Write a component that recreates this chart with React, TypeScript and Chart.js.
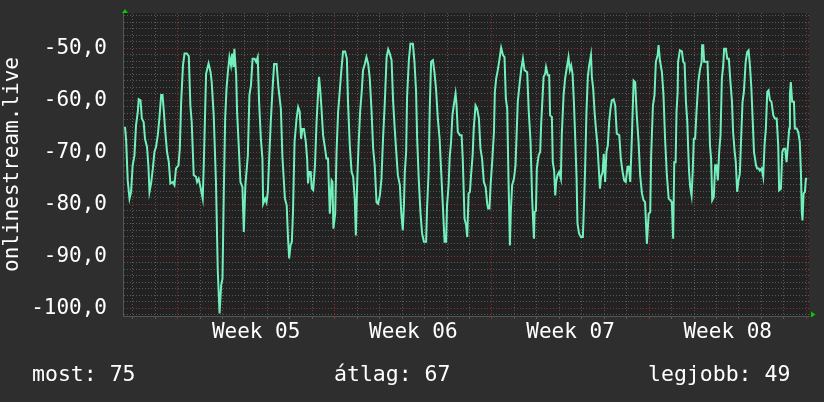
import React, { useEffect, useRef } from "react";
import { Chart, registerables } from "chart.js";

Chart.register(...registerables);

// time in days from the start of Week 05
const days: number[] = [
  -2.34, -2.29, -2.22, -2.14, -2.07, -2.0, -1.92, -1.85, -1.77, -1.73, -1.65, -1.59, -1.51, -1.45, -1.36, -1.3, -1.25, -1.18, -1.1, -1.03,
  -0.96, -0.88, -0.81, -0.73, -0.67, -0.61, -0.56, -0.47, -0.39, -0.32, -0.21, -0.14, -0.07, 0.04, 0.1, 0.16, 0.24, 0.31, 0.41, 0.5,
  0.57, 0.63, 0.72, 0.82, 0.87, 0.94, 1.02, 1.12, 1.17, 1.22, 1.27, 1.38, 1.47, 1.52, 1.61, 1.71, 1.79, 1.87, 1.94, 2.0,
  2.06, 2.12, 2.18, 2.24, 2.31, 2.38, 2.43, 2.49, 2.53, 2.61, 2.65, 2.73, 2.8, 2.89, 2.95, 3.02, 3.13, 3.2, 3.27, 3.34,
  3.43, 3.5, 3.57, 3.63, 3.71, 3.78, 3.81, 3.9, 3.96, 4.02, 4.08, 4.15, 4.23, 4.3, 4.41, 4.49, 4.6, 4.67, 4.78, 4.86,
  4.92, 4.97, 5.03, 5.09, 5.14, 5.21, 5.3, 5.37, 5.44, 5.5, 5.56, 5.63, 5.71, 5.77, 5.81, 5.86, 5.93, 5.98, 6.04, 6.12,
  6.19, 6.26, 6.3, 6.35, 6.41, 6.48, 6.56, 6.63, 6.7, 6.78, 6.86, 6.9, 6.94, 7.02, 7.08, 7.15, 7.22, 7.3, 7.37, 7.46,
  7.54, 7.59, 7.67, 7.75, 7.82, 7.89, 7.94, 8.0, 8.06, 8.13, 8.2, 8.26, 8.34, 8.41, 8.49, 8.56, 8.64, 8.71, 8.78, 8.86,
  8.93, 9.01, 9.08, 9.15, 9.23, 9.31, 9.38, 9.45, 9.53, 9.6, 9.67, 9.72, 9.81, 9.9, 9.96, 10.03, 10.08, 10.12, 10.18, 10.22,
  10.3, 10.37, 10.48, 10.55, 10.62, 10.67, 10.74, 10.82, 10.89, 10.97, 11.07, 11.11, 11.18, 11.23, 11.29, 11.37, 11.44, 11.51, 11.59, 11.67,
  11.74, 11.81, 11.89, 11.96, 12.0, 12.07, 12.12, 12.18, 12.24, 12.3, 12.38, 12.42, 12.48, 12.57, 12.65, 12.7, 12.78, 12.85, 12.9, 12.96,
  13.02, 13.07, 13.14, 13.19, 13.27, 13.34, 13.42, 13.49, 13.56, 13.64, 13.72, 13.79, 13.83, 13.89, 13.94, 14.01, 14.09, 14.13, 14.19, 14.26,
  14.34, 14.41, 14.49, 14.56, 14.62, 14.68, 14.74, 14.8, 14.84, 14.9, 14.98, 15.05, 15.15, 15.24, 15.3, 15.38, 15.45, 15.57, 15.64, 15.72,
  15.79, 15.87, 15.9, 15.96, 16.0, 16.08, 16.15, 16.19, 16.25, 16.3, 16.37, 16.41, 16.49, 16.55, 16.59, 16.67, 16.71, 16.77, 16.82, 16.86,
  16.92, 16.99, 17.07, 17.11, 17.19, 17.26, 17.34, 17.41, 17.47, 17.53, 17.59, 17.65, 17.71, 17.77, 17.81, 17.88, 17.96, 18.05, 18.11, 18.15,
  18.21, 18.27, 18.33, 18.41, 18.45, 18.51, 18.57, 18.63, 18.7, 18.75, 18.81, 18.86, 18.93, 18.98, 19.04, 19.1, 19.16, 19.22, 19.28, 19.34,
  19.42, 19.49, 19.56, 19.67, 19.74, 19.82, 19.89, 19.96, 20.04, 20.1, 20.16, 20.23, 20.31, 20.38, 20.45, 20.53, 20.6, 20.68, 20.75, 20.82,
  20.9, 20.98, 21.05, 21.09, 21.17, 21.24, 21.3, 21.38, 21.42, 21.48, 21.57, 21.64, 21.71, 21.79, 21.87, 21.94, 22.01, 22.07, 22.12, 22.18,
  22.22, 22.27, 22.29, 22.37, 22.46, 22.52, 22.58, 22.64, 22.7, 22.74, 22.78, 22.83, 22.89, 22.94, 22.99, 23.05, 23.11, 23.19, 23.26, 23.34,
  23.36, 23.41, 23.45, 23.53, 23.6, 23.65, 23.71, 23.76, 23.81, 23.88, 23.94, 24.0, 24.06, 24.12, 24.18, 24.24, 24.3, 24.34, 24.42, 24.48,
  24.55, 24.61, 24.69, 24.74, 24.81, 24.86, 24.92, 24.98, 25.04, 25.1, 25.16, 25.22, 25.3, 25.37, 25.43, 25.49, 25.55, 25.61, 25.67, 25.76,
  25.81, 25.88, 25.93, 26.01, 26.08, 26.14, 26.2, 26.26, 26.32, 26.38, 26.45, 26.53, 26.6, 26.68, 26.75, 26.79, 26.87, 26.93, 26.99, 27.06,
  27.12, 27.18, 27.24, 27.27, 27.31, 27.37, 27.45, 27.49, 27.57, 27.64, 27.71, 27.76, 27.8, 27.83, 27.88, 27.94, 27.98, 28.04,
];

const values: number[] = [
  -65.1, -67.7, -75.4, -78.9, -77.6, -72.5, -70.6, -64.8, -62.2, -59.8, -60.0, -63.5, -64.2, -67.4, -69.0, -72.5, -77.6, -76.0, -73.1, -69.9,
  -69.0, -66.7, -63.5, -59.0, -59.0, -62.2, -65.4, -69.9, -71.9, -76.0, -75.7, -76.3, -73.1, -72.5, -69.3, -60.3, -53.3, -51.0, -51.0, -51.5,
  -61.0, -64.2, -74.4, -74.7, -75.7, -75.1, -76.7, -78.9, -71.9, -63.5, -54.9, -52.9, -54.6, -56.5, -62.9, -75.7, -92.7, -101.0, -95.6, -94.3,
  -77.6, -63.5, -57.8, -54.6, -51.7, -53.3, -51.0, -53.6, -50.1, -55.2, -62.2, -69.3, -75.7, -76.7, -85.3, -76.3, -70.6, -59.0, -57.1, -52.0,
  -52.0, -52.6, -51.7, -60.3, -67.4, -71.2, -79.9, -78.9, -79.6, -77.6, -71.2, -64.2, -57.8, -53.0, -53.0, -57.4, -61.6, -70.9, -78.9, -80.2,
  -86.6, -90.4, -87.9, -87.2, -81.5, -68.0, -63.5, -61.3, -62.2, -67.4, -65.5, -65.5, -68.0, -71.2, -76.0, -73.8, -73.8, -77.0, -77.3, -72.5,
  -64.2, -58.4, -55.5, -57.8, -61.6, -66.7, -69.0, -71.2, -71.2, -81.8, -75.4, -75.7, -84.7, -81.8, -69.9, -62.2, -58.4, -53.9, -50.6, -50.6,
  -52.0, -60.3, -68.7, -73.8, -74.7, -78.9, -86.0, -75.7, -68.7, -62.2, -58.4, -54.2, -53.0, -51.7, -53.0, -55.8, -62.2, -69.3, -72.5, -79.6,
  -79.9, -78.3, -75.1, -67.4, -60.3, -51.7, -50.2, -51.0, -52.3, -60.3, -65.4, -68.7, -74.4, -76.3, -81.5, -85.0, -80.2, -73.8, -69.9, -59.4,
  -52.3, -49.1, -49.1, -52.6, -58.1, -67.4, -75.1, -81.8, -85.6, -87.2, -87.2, -80.8, -73.8, -61.6, -52.6, -52.3, -54.6, -57.8, -63.5, -67.4,
  -73.8, -79.9, -87.2, -87.2, -80.2, -76.3, -70.9, -68.0, -62.9, -61.0, -58.7, -60.6, -66.1, -66.7, -66.7, -71.2, -82.8, -84.0, -86.3, -77.9,
  -77.6, -74.4, -70.6, -65.4, -61.0, -61.6, -63.5, -69.3, -71.2, -75.7, -76.7, -79.9, -80.8, -80.8, -76.3, -71.9, -66.1, -58.4, -55.8, -54.2,
  -52.0, -49.9, -51.3, -51.7, -59.7, -61.6, -75.7, -87.9, -81.5, -76.3, -75.1, -72.5, -60.3, -56.5, -54.2, -52.0, -54.2, -54.6, -62.2, -68.0,
  -78.9, -86.6, -81.5, -81.2, -73.1, -70.6, -69.9, -64.8, -59.7, -55.5, -54.9, -53.6, -55.2, -55.2, -62.9, -63.2, -71.9, -73.5, -78.3, -75.7,
  -74.4, -73.8, -75.1, -66.7, -59.0, -55.8, -53.6, -51.7, -54.2, -53.3, -54.9, -60.3, -67.4, -75.1, -83.7, -85.6, -86.3, -86.3, -78.9, -73.1,
  -62.2, -55.5, -53.3, -51.3, -55.5, -57.8, -62.2, -65.4, -68.7, -72.5, -77.0, -74.7, -73.8, -70.3, -75.7, -69.9, -68.7, -64.2, -61.6, -60.0,
  -59.8, -61.0, -66.4, -66.7, -71.2, -73.8, -75.4, -75.7, -72.8, -72.8, -75.7, -67.4, -56.2, -56.5, -62.9, -68.0, -74.4, -77.9, -79.2, -79.6,
  -87.6, -81.8, -81.5, -70.6, -61.0, -59.0, -52.6, -51.3, -49.4, -52.3, -54.6, -59.0, -67.4, -74.4, -78.9, -79.2, -79.6, -86.6, -71.9, -71.9,
  -62.2, -58.4, -52.6, -50.4, -50.6, -52.6, -52.9, -60.3, -64.2, -69.3, -73.8, -76.7, -78.3, -73.8, -67.4, -67.4, -62.2, -56.5, -54.2, -52.6,
  -49.4, -49.4, -52.6, -52.6, -52.6, -59.0, -68.7, -71.2, -79.2, -78.6, -72.5, -72.5, -75.4, -69.9, -66.7, -55.8, -53.3, -50.1, -50.1, -52.0,
  -52.0, -55.8, -60.3, -66.1, -69.9, -71.9, -77.6, -75.4, -74.1, -67.1, -60.3, -58.4, -52.6, -50.7, -50.4, -53.3, -57.4, -63.5, -69.9, -72.5,
  -73.1, -73.1, -73.5, -73.1, -74.7, -68.7, -65.4, -58.4, -58.1, -60.0, -60.3, -62.9, -63.5, -63.5, -68.7, -77.3, -77.0, -69.9, -69.3, -69.3,
  -71.9, -68.7, -65.4, -58.7, -56.5, -60.3, -60.3, -65.4, -65.4, -66.1, -68.0, -73.8, -81.5, -83.1, -77.9, -77.6, -75.1, -75.1,
];

const weekLabels: string[] = ["Week 05", "Week 06", "Week 07", "Week 08"];
const weekLabelDays: number[] = [3.5, 10.5, 17.5, 24.5];
const dayGridLines: number[] = [-2, -1, 0, 1, 2, 3, 4, 5, 6, 7, 8, 9, 10, 11, 12, 13, 14, 15, 16, 17, 18, 19, 20, 21, 22, 23, 24, 25, 26, 27, 28];
const yTitle = "onlinestream.live";
const statLabels: string[] = ["most: 75", "átlag: 67", "legjobb: 49"];

const X_MIN = -2.43;
const X_MAX = 28.12;
const Y_MIN = -101.48;
const Y_MAX = -43.21;

const FONT = '"DejaVu Sans Mono", monospace';
const OUTER_BG = "#2e2e2e";
const PLOT_BG = "#222222";
const GRID_MINOR = "#585858";
const GRID_MAJOR = "#8a2e2e";
const LINE = "#72f0bc";
const ARROW = "#00cc00";

const isMult = (v: number, m: number) => Math.abs(v / m - Math.round(v / m)) < 1e-6;

const decor = {
  id: "decor",
  beforeDraw(chart: any) {
    const { ctx, chartArea: a, width, height } = chart;
    ctx.save();
    ctx.fillStyle = OUTER_BG;
    ctx.fillRect(0, 0, width, height);
    ctx.fillStyle = PLOT_BG;
    ctx.fillRect(a.left, a.top, a.right - a.left, a.bottom - a.top);
    ctx.restore();
  },
  afterDraw(chart: any) {
    const { ctx, chartArea: a } = chart;
    ctx.save();
    ctx.fillStyle = ARROW;
    // arrow on top of the y axis
    ctx.beginPath();
    ctx.moveTo(a.left - 1, a.top);
    ctx.lineTo(a.left + 5, a.top);
    ctx.lineTo(a.left + 2, a.top - 4);
    ctx.closePath();
    ctx.fill();
    // arrow at the end of the x axis
    ctx.beginPath();
    ctx.moveTo(a.right + 2, a.bottom - 4.5);
    ctx.lineTo(a.right + 2, a.bottom + 1.5);
    ctx.lineTo(a.right + 6.5, a.bottom - 1.5);
    ctx.closePath();
    ctx.fill();
    // statistics line
    ctx.fillStyle = "#ffffff";
    ctx.font = `21.5px ${FONT}`;
    ctx.textBaseline = "alphabetic";
    ctx.textAlign = "left";
    ctx.fillText(statLabels[0], 32, 381);
    ctx.fillText(statLabels[1], 334, 381);
    ctx.fillText(statLabels[2], 648, 381);
    ctx.restore();
  },
};

export default function App() {
  const ref = useRef<HTMLCanvasElement | null>(null);

  useEffect(() => {
    if (!ref.current) return;
    const points = days.map((d, i) => ({ x: d, y: values[i] }));
    const chart = new Chart(ref.current, {
      type: "line",
      data: {
        datasets: [
          {
            data: points,
            borderColor: LINE,
            borderWidth: 2,
            pointRadius: 0,
            tension: 0,
            fill: false,
          },
        ],
      },
      options: {
        animation: false,
        responsive: false,
        maintainAspectRatio: false,
        events: [],
        layout: { padding: { top: 13, right: 15, left: 0, bottom: 0 } },
        plugins: { legend: { display: false }, tooltip: { enabled: false } },
        scales: {
          x: {
            type: "linear",
            min: X_MIN,
            max: X_MAX,
            afterBuildTicks: (axis: any) => {
              const vals = [...dayGridLines, ...weekLabelDays].sort((p, q) => p - q);
              axis.ticks = vals.map((v) => ({ value: v }));
            },
            afterFit: (axis: any) => {
              axis.height = 86;
              axis.paddingLeft = 0;
              axis.paddingRight = 0;
            },
            ticks: {
              autoSkip: false,
              maxRotation: 0,
              minRotation: 0,
              padding: 1,
              color: "#ffffff",
              font: { family: FONT, size: 21 },
              callback: (v: any) => {
                const i = weekLabelDays.indexOf(Number(v));
                return i >= 0 ? weekLabels[i] : "";
              },
            },
            grid: {
              drawTicks: true,
              tickLength: 3,
              lineWidth: 1,
              color: (c: any) => {
                const v = c.tick ? c.tick.value : 0;
                if (!isMult(v, 1)) return "rgba(0,0,0,0)";
                return isMult(v, 7) ? GRID_MAJOR : GRID_MINOR;
              },
              tickColor: (c: any) => {
                const v = c.tick ? c.tick.value : 0;
                if (!isMult(v, 1)) return "rgba(0,0,0,0)";
                return isMult(v, 7) ? GRID_MAJOR : GRID_MINOR;
              },
            },
            border: { display: true, color: "#555555", width: 1, dash: [1, 2] },
          },
          y: {
            type: "linear",
            min: Y_MIN,
            max: Y_MAX,
            afterBuildTicks: (axis: any) => {
              const t: any[] = [];
              for (let i = -81; i <= -35; i++) t.push({ value: i * 1.25 });
              axis.ticks = t;
            },
            afterFit: (axis: any) => {
              axis.width = 123;
              axis.paddingTop = 0;
              axis.paddingBottom = 0;
            },
            ticks: {
              autoSkip: false,
              padding: 16,
              color: "#ffffff",
              font: { family: FONT, size: 21 },
              callback: (v: any) => {
                const n = Number(v);
                return isMult(n, 10) ? n.toFixed(1).replace(".", ",") : "";
              },
            },
            grid: {
              drawTicks: false,
              lineWidth: 1,
              color: (c: any) => {
                const v = c.tick ? c.tick.value : 0;
                return isMult(v, 10) ? GRID_MAJOR : GRID_MINOR;
              },
            },
            border: { display: true, color: "#555555", width: 1, dash: [1, 2] },
            title: {
              display: true,
              text: yTitle,
              color: "#ffffff",
              font: { family: FONT, size: 21, lineHeight: 1.2 },
              padding: { top: 0, bottom: 0 },
            },
          },
        },
      },
      plugins: [decor],
    } as any);
    return () => chart.destroy();
  }, []);

  return (
    <div style={{ position: "fixed", left: 0, top: 0, width: 824, height: 402, background: OUTER_BG }}>
      <canvas ref={ref} width={824} height={402} style={{ display: "block", width: 824, height: 402 }} />
    </div>
  );
}
